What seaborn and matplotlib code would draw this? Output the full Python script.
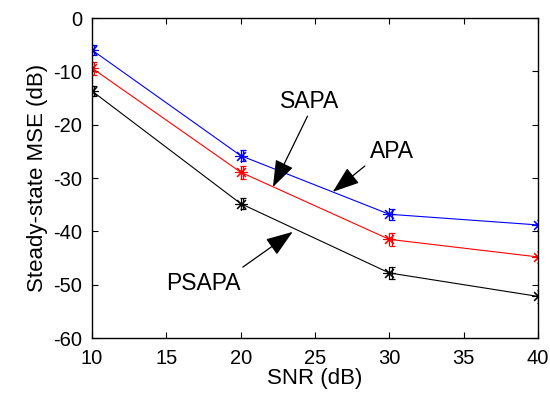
import matplotlib
matplotlib.use("Agg")
import matplotlib.pyplot as plt
import seaborn as sns
import pandas as pd

snr = [10, 20, 30, 40]
apa = [-6.0, -25.8, -36.8, -38.8]
sapa = [-9.4, -28.9, -41.5, -44.8]
psapa = [-13.7, -34.8, -47.8, -52.2]
err_apa = [1.0, 1.0, 1.0, 1.0]
err_sapa = [1.2, 1.2, 1.2, 1.2]
err_psapa = [1.0, 1.0, 1.2, 1.2]
series = ["APA", "SAPA", "PSAPA"]
colors = {"APA": "#0000ff", "SAPA": "#ff0000", "PSAPA": "#000000"}

sns.set_theme(style="white")
plt.rcParams['font.family'] = ['Liberation Sans', 'DejaVu Sans']
plt.rcParams['axes.unicode_minus'] = False
plt.rcParams['text.color'] = 'black'
plt.rcParams['axes.labelcolor'] = 'black'
plt.rcParams['xtick.color'] = 'black'
plt.rcParams['ytick.color'] = 'black'

rows = []
for name, vals in zip(series, [apa, sapa, psapa]):
    for x, v in zip(snr, vals):
        rows.append({"SNR": x, "MSE": v, "alg": name})
df = pd.DataFrame(rows)

fig = plt.figure(figsize=(5.5, 4), dpi=100)
ax = fig.add_axes([0.1673, 0.155, 0.8107, 0.80])

sns.lineplot(data=df, x="SNR", y="MSE", hue="alg", palette=colors, ax=ax,
             linewidth=0.8, marker=(8, 2, 0), markersize=9,
             markeredgewidth=0.8, legend=False, sort=False)
for c in ax.lines:
    c.set_markeredgecolor(c.get_color())

for name, vals, e in zip(series, [apa, sapa, psapa], [err_apa, err_sapa, err_psapa]):
    ax.errorbar([x + 0.15 for x in snr], vals, yerr=e, fmt="none",
                ecolor=colors[name], elinewidth=0.9, capsize=2.5, capthick=0.9)

ax.set_xlim(10, 40)
ax.set_ylim(-60, 0)
ax.set_xticks([10, 15, 20, 25, 30, 35, 40])
ax.set_yticks([-60, -50, -40, -30, -20, -10, 0])
ax.tick_params(direction="in", length=4, width=0.8, labelsize=14.5,
               top=True, right=True, bottom=True, left=True,
               colors="black", labelcolor="black")
ax.tick_params(axis="x", pad=8)
ax.tick_params(axis="y", pad=7)
for s in ax.spines.values():
    s.set_color("black")
    s.set_linewidth(1.0)
ax.set_xlabel("SNR (dB)", fontsize=16, labelpad=0, color="black")
ax.set_ylabel("Steady-state MSE (dB)", fontsize=16, labelpad=4, color="black")

arrow = dict(arrowstyle="-|>,head_length=1.4,head_width=0.5", color="black",
             lw=0.9, shrinkA=0, shrinkB=0)
ax.annotate("", xy=(22.17, -31.7), xytext=(24.5, -18.4), arrowprops=arrow)
ax.text(24.66, -15.75, "SAPA", fontsize=16.5, ha="center", va="center", color="black")
ax.annotate("", xy=(26.2, -32.6), xytext=(28.36, -27.75), arrowprops=arrow)
ax.text(30.17, -25.1, "APA", fontsize=16.5, ha="center", va="center", color="black")
ax.annotate("", xy=(23.5, -40.1), xytext=(20.15, -46.7), arrowprops=arrow)
ax.text(17.46, -49.7, "PSAPA", fontsize=16.5, ha="center", va="center", color="black")

fig.savefig("out.png", dpi=100, facecolor="white")
